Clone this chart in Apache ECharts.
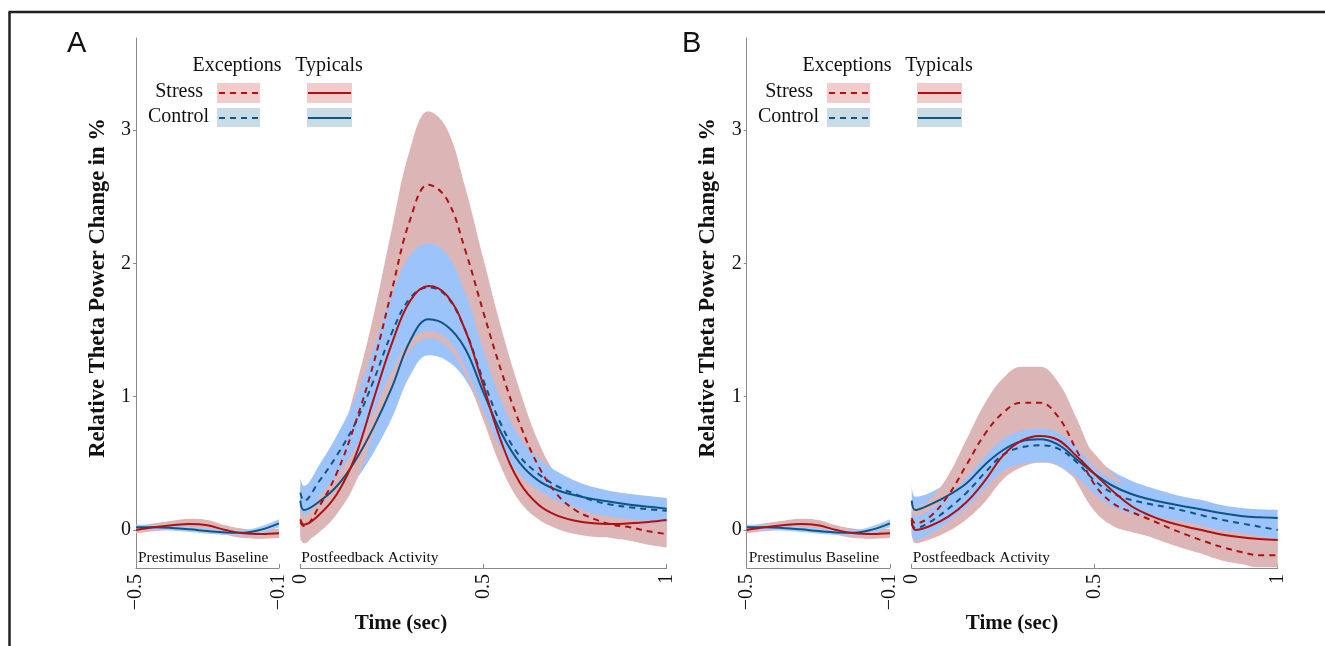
<!DOCTYPE html>
<html lang="en">
<head>
<meta charset="UTF-8">
<title>Relative Theta Power Change</title>
<script src="https://cdn.jsdelivr.net/npm/echarts@6/dist/echarts.min.js"></script>
</head>
<body style="margin:0;background:#fff">
<div id="container" style="width:1325px;height:646px"></div>
<script>
// time points (sec)
var tBase = [-0.5, -0.45, -0.4, -0.35, -0.3, -0.25, -0.2, -0.15, -0.1];
var tPost = [0, 0.01, 0.05, 0.1, 0.15, 0.2, 0.25, 0.3, 0.35, 0.4, 0.45, 0.5,
             0.55, 0.6, 0.65, 0.7, 0.75, 0.8, 0.85, 0.9, 0.95, 1];

// prestimulus baseline (same in both panels)
var baseStress    = [0.0, 0.02, 0.035, 0.045, 0.035, 0.0, -0.025, -0.03, -0.025];
var baseStressSe  = [0.025, 0.03, 0.035, 0.04, 0.04, 0.035, 0.035, 0.035, 0.035];
var baseControl   = [0.02, 0.02, 0.015, 0.005, -0.008, -0.018, -0.02, 0.003, 0.05];
var baseControlSe = [0.02, 0.02, 0.02, 0.02, 0.02, 0.02, 0.02, 0.025, 0.03];

// panel A, postfeedback
var aExcStress    = [0.06, 0.03, 0.17, 0.43, 0.80, 1.25, 1.80, 2.33, 2.59, 2.48, 2.10, 1.63, 1.18, 0.79, 0.48, 0.27, 0.15, 0.085, 0.04, 0.02, -0.01, -0.03];
var aExcStressSe  = [0.13, 0.13, 0.14, 0.18, 0.26, 0.36, 0.46, 0.53, 0.55, 0.53, 0.47, 0.40, 0.32, 0.25, 0.18, 0.14, 0.12, 0.11, 0.10, 0.10, 0.10, 0.10];
var aTypStress    = [0.08, 0.04, 0.11, 0.27, 0.55, 0.98, 1.40, 1.72, 1.83, 1.76, 1.50, 1.08, 0.65, 0.35, 0.19, 0.11, 0.07, 0.05, 0.045, 0.05, 0.06, 0.075];
var aTypStressSe  = [0.12, 0.12, 0.13, 0.15, 0.20, 0.26, 0.32, 0.37, 0.39, 0.38, 0.33, 0.26, 0.19, 0.14, 0.11, 0.10, 0.10, 0.10, 0.10, 0.10, 0.10, 0.10];
var aExcControl   = [0.28, 0.22, 0.36, 0.56, 0.80, 1.12, 1.48, 1.74, 1.82, 1.75, 1.50, 1.12, 0.78, 0.55, 0.42, 0.33, 0.27, 0.22, 0.19, 0.17, 0.155, 0.145];
var aExcControlSe = [0.11, 0.11, 0.12, 0.15, 0.19, 0.24, 0.29, 0.32, 0.33, 0.32, 0.28, 0.23, 0.18, 0.14, 0.12, 0.11, 0.10, 0.10, 0.09, 0.09, 0.09, 0.09];
var aTypControl   = [0.22, 0.15, 0.21, 0.33, 0.52, 0.77, 1.07, 1.42, 1.58, 1.53, 1.36, 1.03, 0.72, 0.50, 0.37, 0.30, 0.26, 0.23, 0.21, 0.19, 0.175, 0.16];
var aTypControlSe = [0.12, 0.10, 0.10, 0.12, 0.15, 0.19, 0.23, 0.26, 0.27, 0.26, 0.23, 0.18, 0.14, 0.11, 0.10, 0.10, 0.09, 0.09, 0.08, 0.08, 0.08, 0.08];

// panel B, postfeedback
var bExcStress    = [0.09, 0.05, 0.10, 0.26, 0.49, 0.72, 0.88, 0.955, 0.955, 0.85, 0.60, 0.34, 0.20, 0.135, 0.08, 0.02, -0.035, -0.085, -0.13, -0.165, -0.19, -0.19];
var bExcStressSe  = [0.12, 0.12, 0.13, 0.15, 0.19, 0.23, 0.26, 0.27, 0.27, 0.26, 0.24, 0.20, 0.17, 0.15, 0.13, 0.12, 0.11, 0.10, 0.10, 0.09, 0.09, 0.09];
var bTypStress    = [0.075, 0.0, 0.03, 0.10, 0.21, 0.37, 0.56, 0.67, 0.705, 0.675, 0.555, 0.42, 0.29, 0.18, 0.11, 0.06, 0.025, -0.005, -0.035, -0.055, -0.068, -0.075];
var bTypStressSe  = [0.10, 0.10, 0.10, 0.11, 0.13, 0.16, 0.18, 0.20, 0.20, 0.19, 0.17, 0.15, 0.13, 0.12, 0.11, 0.10, 0.10, 0.10, 0.10, 0.10, 0.10, 0.10];
var bExcControl   = [0.05, 0.015, 0.06, 0.16, 0.28, 0.43, 0.565, 0.62, 0.635, 0.61, 0.51, 0.37, 0.275, 0.225, 0.195, 0.17, 0.14, 0.105, 0.075, 0.05, 0.025, 0.0];
var bExcControlSe = [0.09, 0.09, 0.09, 0.10, 0.11, 0.12, 0.12, 0.125, 0.125, 0.12, 0.11, 0.10, 0.10, 0.10, 0.09, 0.09, 0.08, 0.08, 0.08, 0.07, 0.07, 0.07];
var bTypControl   = [0.22, 0.15, 0.19, 0.26, 0.35, 0.49, 0.60, 0.665, 0.68, 0.64, 0.53, 0.42, 0.33, 0.27, 0.23, 0.20, 0.175, 0.15, 0.125, 0.105, 0.095, 0.09];
var bTypControlSe = [0.12, 0.10, 0.09, 0.10, 0.12, 0.14, 0.16, 0.17, 0.17, 0.16, 0.15, 0.13, 0.11, 0.10, 0.09, 0.08, 0.07, 0.07, 0.06, 0.06, 0.06, 0.06];

var yTicks = [0, 1, 2, 3];

var RED = '#b20f10', BLUE = '#0d5586';
var PINK = '#dcb6b6', SKY = '#9dc3fb';
var SERIF = '"Liberation Serif", "Times New Roman", serif';

var dom = document.getElementById('container');
var myChart = echarts.init(dom);

var series = [];

// band = lower edge (hidden) + stacked width with filled area
// value is put first in each item so the stack runs on y, not on time
function band(idx, t, mean, se, color, key) {
    var stack = 'band' + key;
    series.push({
        type: 'line', xAxisIndex: idx, yAxisIndex: idx, stack: stack, stackStrategy: 'all',
        smooth: 0.4, symbol: 'none', silent: true, encode: {x: 1, y: 0},
        lineStyle: {opacity: 0},
        data: t.map(function (x, i) { return [mean[i] - se[i], x]; })
    });
    series.push({
        type: 'line', xAxisIndex: idx, yAxisIndex: idx, stack: stack, stackStrategy: 'all',
        smooth: 0.4, symbol: 'none', silent: true, encode: {x: 1, y: 0},
        lineStyle: {opacity: 0},
        areaStyle: {color: color, opacity: 1},
        data: t.map(function (x, i) { return [2 * se[i], x]; })
    });
}

function curve(idx, t, mean, color, dashed) {
    series.push({
        type: 'line', xAxisIndex: idx, yAxisIndex: idx,
        smooth: 0.4, symbol: 'none', silent: true,
        lineStyle: {color: color, width: 2, type: dashed ? [6, 5] : 'solid'},
        data: t.map(function (x, i) { return [x, mean[i]]; })
    });
}

// baseline grids 0 and 2
[0, 2].forEach(function (g) {
    band(g, tBase, baseStress, baseStressSe, PINK, g + 's');
    band(g, tBase, baseControl, baseControlSe, '#a9cbf8', g + 'c');
    curve(g, tBase, baseControl, BLUE, false);
    curve(g, tBase, baseStress, RED, false);
});

// postfeedback panel A (grid 1)
band(1, tPost, aTypControl, aTypControlSe, SKY, 'a1');
band(1, tPost, aTypStress, aTypStressSe, PINK, 'a2');
band(1, tPost, aExcStress, aExcStressSe, PINK, 'a3');
band(1, tPost, aExcControl, aExcControlSe, SKY, 'a4');
curve(1, tPost, aTypControl, BLUE, false);
curve(1, tPost, aExcControl, BLUE, true);
curve(1, tPost, aExcStress, RED, true);
curve(1, tPost, aTypStress, RED, false);

// postfeedback panel B (grid 3)
band(3, tPost, bTypControl, bTypControlSe, SKY, 'b1');
band(3, tPost, bTypStress, bTypStressSe, PINK, 'b2');
band(3, tPost, bExcStress, bExcStressSe, PINK, 'b3');
band(3, tPost, bExcControl, bExcControlSe, SKY, 'b4');
curve(3, tPost, bTypControl, BLUE, false);
curve(3, tPost, bExcControl, BLUE, true);
curve(3, tPost, bExcStress, RED, true);
curve(3, tPost, bTypStress, RED, false);

function xAxisOf(g, min, max, ticks) {
    return {
        type: 'value', gridIndex: g, min: min, max: max,
        axisLine: {onZero: false, lineStyle: {color: '#8a8a8a', width: 1}},
        axisTick: {inside: true, length: 4, customValues: ticks, lineStyle: {color: '#8a8a8a'}},
        axisLabel: {
            customValues: ticks, rotate: 90, margin: 6, color: '#111',
            fontFamily: SERIF, fontSize: 20,
            formatter: function (v) { return String(v).replace('-', '\u2212'); }
        },
        splitLine: {show: false}
    };
}

function yAxisOf(g, visible) {
    return {
        type: 'value', gridIndex: g, min: -0.285, max: 3.69, show: visible,
        axisLine: {show: true, onZero: false, lineStyle: {color: '#8a8a8a', width: 1}},
        axisTick: {show: true, length: 3, customValues: yTicks, lineStyle: {color: '#8a8a8a'}},
        axisLabel: {customValues: yTicks, margin: 5, color: '#111', fontFamily: SERIF, fontSize: 20},
        splitLine: {show: false}
    };
}

// legend, titles, panel letters, frame
var graphics = [
    {type: 'line', shape: {x1: 8.5, y1: 12, x2: 1325, y2: 12}, style: {stroke: '#231f20', lineWidth: 2.5}},
    {type: 'line', shape: {x1: 9.5, y1: 12, x2: 9.5, y2: 646}, style: {stroke: '#231f20', lineWidth: 2.5}}
];

function panelDecor(ox, letter, xl, axisL, postL, titleX) {
    var txt = function (x, y, s, size, align, weight, family) {
        return {type: 'text', x: x, y: y, style: {
            text: s, fill: '#111', align: align, verticalAlign: 'middle',
            font: (weight || 'normal') + ' ' + size + 'px ' + (family || SERIF)
        }};
    };
    var ytitle = txt(0, 0, 'Relative Theta Power Change in %', 22.5, 'center', 'bold');
    ytitle.x = 98 + ox;
    ytitle.y = 288;
    ytitle.rotation = Math.PI / 2;
    graphics.push(
        ytitle,
        txt(xl, 44, letter, 29, 'left', 'normal', '"Liberation Sans", Arial, sans-serif'),
        txt(237 + ox, 66, 'Exceptions', 20, 'center'),
        txt(329 + ox, 66, 'Typicals', 20, 'center'),
        txt(203 + ox, 92, 'Stress', 20, 'right'),
        txt(209 + ox, 117, 'Control', 20, 'right'),
        {type: 'rect', shape: {x: 217 + ox, y: 83, width: 43, height: 20}, style: {fill: '#f2cbcb'}},
        {type: 'rect', shape: {x: 217 + ox, y: 108, width: 43, height: 19}, style: {fill: '#c9dce6'}},
        {type: 'rect', shape: {x: 307 + ox, y: 83, width: 45, height: 20}, style: {fill: '#f2cbcb'}},
        {type: 'rect', shape: {x: 307 + ox, y: 108, width: 45, height: 19}, style: {fill: '#c9dce6'}},
        {type: 'line', shape: {x1: 219 + ox, y1: 93, x2: 259 + ox, y2: 93}, style: {stroke: RED, lineWidth: 2, lineDash: [6, 5]}},
        {type: 'line', shape: {x1: 219 + ox, y1: 118, x2: 259 + ox, y2: 118}, style: {stroke: BLUE, lineWidth: 2, lineDash: [6, 5]}},
        {type: 'line', shape: {x1: 308 + ox, y1: 93, x2: 351 + ox, y2: 93}, style: {stroke: RED, lineWidth: 2}},
        {type: 'line', shape: {x1: 308 + ox, y1: 118, x2: 351 + ox, y2: 118}, style: {stroke: BLUE, lineWidth: 2}},
        txt(axisL + 2, 558, 'Prestimulus Baseline', 15.5, 'left'),
        txt(postL + 1, 558, 'Postfeedback Activity', 15.5, 'left'),
        txt(titleX, 624, 'Time (sec)', 21, 'center', 'bold')
    );
}
panelDecor(0, 'A', 67, 136, 300.3, 401);
panelDecor(610, 'B', 682, 746.7, 911.7, 1012);

var option = {
    animation: false,
    grid: [
        {left: 136, top: 38, width: 143, height: 530},
        {left: 300.3, top: 38, width: 366.4, height: 530},
        {left: 746.7, top: 38, width: 143.3, height: 530},
        {left: 911.7, top: 38, width: 366, height: 530}
    ],
    xAxis: [
        xAxisOf(0, -0.5, -0.1, [-0.5, -0.1]),
        xAxisOf(1, 0, 1, [0, 0.5, 1]),
        xAxisOf(2, -0.5, -0.1, [-0.5, -0.1]),
        xAxisOf(3, 0, 1, [0, 0.5, 1])
    ],
    yAxis: [yAxisOf(0, true), yAxisOf(1, false), yAxisOf(2, true), yAxisOf(3, false)],
    graphic: graphics,
    series: series
};

if (option && typeof option === "object") {
    myChart.setOption(option, true);
}
</script>
</body>
</html>
